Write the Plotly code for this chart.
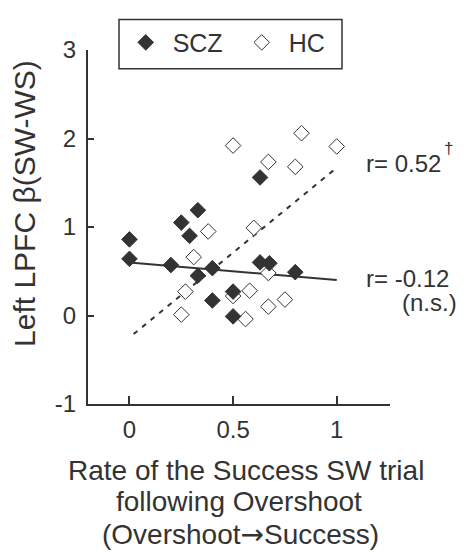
import plotly.graph_objects as go

# ---- data ----
scz_x = [0.00, 0.00, 0.20, 0.25, 0.33, 0.29, 0.33, 0.40, 0.40, 0.50, 0.50, 0.63, 0.63, 0.675, 0.80]
scz_y = [0.86, 0.64, 0.57, 1.05, 1.19, 0.90, 0.45, 0.535, 0.17, 0.27, -0.01, 1.56, 0.60, 0.59, 0.49]

hc_x = [0.50, 0.83, 1.00, 0.67, 0.80, 0.38, 0.60, 0.31, 0.67, 0.27, 0.50, 0.58, 0.25, 0.56, 0.67, 0.75]
hc_y = [1.92, 2.06, 1.91, 1.735, 1.68, 0.95, 0.99, 0.66, 0.48, 0.27, 0.22, 0.28, 0.01, -0.04, 0.10, 0.18]

scz_fit_x = [0.0, 1.0]
scz_fit_y = [0.60, 0.40]
hc_fit_x = [0.02, 1.0]
hc_fit_y = [-0.21, 1.67]

x_ticks = [0, 0.5, 1]
x_tick_labels = ["0", "0.5", "1"]
y_ticks = [-1, 0, 1, 2, 3]
y_tick_labels = ["-1", "0", "1", "2", "3"]

names = ["SCZ", "HC"]
r_texts = ["r= 0.52", "†", "r= -0.12", "(n.s.)"]
x_title_lines = ["Rate of the Success SW trial", "following Overshoot",
                 "(Overshoot<span style=\"font-family:'DejaVu Sans'\">→</span>Success)"]
y_title = "Left LPFC β(SW-WS)"

INK = "#333333"
FONT = "Liberation Sans, Arial, sans-serif"

OFF = 8  # page body margin in the browser
W, H = 465 - OFF, 553 - OFF
ML, MR, MT, MB = 88 - OFF, 75, 43 - OFF, 149
PW = W - ML - MR
PH = H - MT - MB


def px_x(p):
    # p: x pixel in the reference picture
    return (p - OFF - ML) / PW


def px_y(p):
    return (H - MB - (p - OFF)) / PH


fig = go.Figure()

fig.add_trace(go.Scatter(
    x=hc_fit_x, y=hc_fit_y, mode="lines", showlegend=False,
    line=dict(color=INK, width=2, dash="5px,6px"), hoverinfo="skip"))
fig.add_trace(go.Scatter(
    x=scz_fit_x, y=scz_fit_y, mode="lines", showlegend=False,
    line=dict(color=INK, width=2), hoverinfo="skip"))

fig.add_trace(go.Scatter(
    x=hc_x, y=hc_y, mode="markers", name=" " + names[1],
    marker=dict(symbol="diamond", size=12, color="white",
                line=dict(color=INK, width=1))))
fig.add_trace(go.Scatter(
    x=scz_x, y=scz_y, mode="markers", name=" " + names[0],
    marker=dict(symbol="diamond", size=12, color=INK,
                line=dict(color=INK, width=1))))

fig.update_layout(
    width=W, height=H,
    margin=dict(l=ML, r=MR, t=MT, b=MB),
    paper_bgcolor="white", plot_bgcolor="white",
    font=dict(family=FONT, color=INK),
    showlegend=True,
    legend=dict(
        orientation="h", x=px_x(125.7), y=px_y(12),
        xanchor="left", yanchor="top",
        borderwidth=0, bgcolor="rgba(0,0,0,0)",
        font=dict(size=25, family=FONT, color=INK),
        traceorder="reversed", entrywidth=71,
    ),
    xaxis=dict(
        range=[-0.2, 1.257], tickvals=x_ticks, ticktext=x_tick_labels,
        showgrid=False, zeroline=False, showline=True, linecolor=INK, linewidth=2,
        ticks="inside", ticklen=8, tickwidth=1.5, tickcolor=INK,
        tickfont=dict(size=24, family=FONT, color=INK), ticklabelstandoff=3,
    ),
    yaxis=dict(
        range=[-1, 3], tickvals=y_ticks, ticktext=y_tick_labels,
        showgrid=False, zeroline=False, showline=True, linecolor=INK, linewidth=2,
        ticks="inside", ticklen=6, tickwidth=1.5, tickcolor=INK,
        tickfont=dict(size=24, family=FONT, color=INK), ticklabelstandoff=5,
    ),
    shapes=[dict(type="rect", xref="paper", yref="paper",
                 x0=px_x(119), x1=px_x(342), y0=px_y(62), y1=px_y(12),
                 line=dict(color=INK, width=1.5), fillcolor="rgba(0,0,0,0)")],
)

anns = []
# correlation labels
anns.append(dict(xref="paper", yref="paper", x=px_x(364), y=px_y(159),
                 xanchor="left", yanchor="middle", text=r_texts[0],
                 showarrow=False, font=dict(size=24, family=FONT, color=INK)))
anns.append(dict(xref="paper", yref="paper", x=px_x(448.5), y=px_y(143),
                 xanchor="center", yanchor="middle", text=r_texts[1],
                 showarrow=False, font=dict(size=17, family=FONT, color=INK)))
anns.append(dict(xref="paper", yref="paper", x=px_x(364), y=px_y(276),
                 xanchor="left", yanchor="middle", text=r_texts[2],
                 showarrow=False, font=dict(size=24, family=FONT, color=INK)))
anns.append(dict(xref="paper", yref="paper", x=px_x(459), y=px_y(300),
                 xanchor="right", yanchor="middle", text=r_texts[3],
                 showarrow=False, font=dict(size=24, family=FONT, color=INK)))
# x title lines
for txt, cx, cy in zip(x_title_lines, [246, 239, 240], [472, 503, 537]):
    anns.append(dict(xref="paper", yref="paper", x=px_x(cx), y=px_y(cy),
                     xanchor="center", yanchor="middle", text=txt,
                     showarrow=False, font=dict(size=28, family=FONT, color=INK)))
# y title
anns.append(dict(xref="paper", yref="paper", x=px_x(25), y=px_y(200),
                 xanchor="center", yanchor="middle", text=y_title, textangle=-90,
                 showarrow=False, font=dict(size=30, family=FONT, color=INK)))
fig.update_layout(annotations=anns)

fig.write_html("out.html")
